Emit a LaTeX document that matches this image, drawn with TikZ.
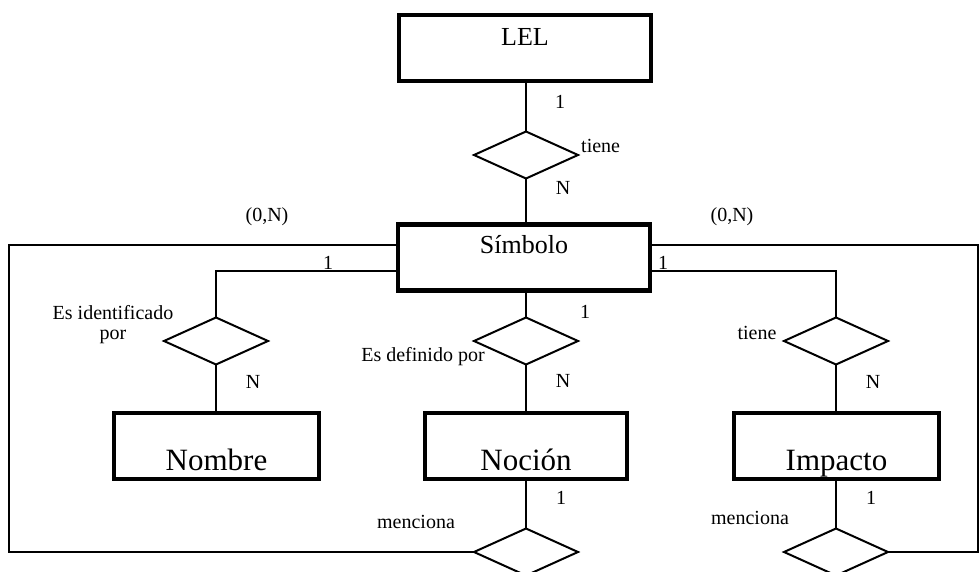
\documentclass[tikz,border=0pt]{standalone}
\usepackage{fontspec}
\setmainfont{Liberation Serif}
\usetikzlibrary{shapes.geometric}
\begin{document}
\begin{tikzpicture}[x=1pt,y=-1pt,
  entity/.style={draw, rectangle, line width=4.5pt, minimum width=#1, minimum height=66pt, inner sep=0pt, outer sep=0pt},
  rel/.style={draw, diamond, line width=2pt, minimum width=104pt, minimum height=47pt, inner sep=0pt, outer sep=0pt},
  conn/.style={line width=1.3pt},
  midt/.style={font=\fontsize{26}{30}\selectfont, inner sep=0pt, anchor=base},
  bigt/.style={font=\fontsize{31}{36}\selectfont, inner sep=0pt, anchor=base},
  lab/.style={font=\fontsize{20}{24}\selectfont, inner sep=0pt}]
\useasboundingbox (0,0) rectangle (979,572);
% entities
\node[entity=252pt] (lel) at (525,48) {};
\node[midt] (lelT) at ([yshift=2.4pt]lel.center) {LEL};
\node[entity=252pt] (sim) at (524,257.5) {};
\node[midt] (simT) at ([yshift=4.5pt]sim.center) {Símbolo};
\node[entity=205pt] (nom) at (216.5,446) {};
\node[bigt] (nomT) at ([yshift=-24pt]nom.center) {Nombre};
\node[entity=202pt] (noc) at (526,446) {};
\node[bigt] (nocT) at ([yshift=-24pt]noc.center) {Noción};
\node[entity=205pt] (imp) at (836.5,446) {};
\node[bigt] (impT) at ([yshift=-24pt]imp.center) {Impacto};
% relationships
\node[rel] (r1) at (526,155) {};
\node[rel] (r2) at (216,341) {};
\node[rel] (r3) at (526,341) {};
\node[rel] (r4) at (836,341) {};
\node[rel] (r5) at (526,552) {};
\node[rel] (r6) at (836,552) {};
% connectors
\draw[conn] (r1.north) -- (r1.north |- lel.south);
\draw[conn] (r1.south) -- (r1.south |- sim.north);
\draw[conn] ([yshift=-13.5pt]sim.west) -| (r2.north);
\draw[conn] (r2.south) -- (r2.south |- nom.north);
\draw[conn] (r3.north) -- (r3.north |- sim.south);
\draw[conn] (r3.south) -- (r3.south |- noc.north);
\draw[conn] ([yshift=-13.5pt]sim.east) -| (r4.north);
\draw[conn] (r4.south) -- (r4.south |- imp.north);
\draw[conn] (r5.north) -- (r5.north |- noc.south);
\draw[conn] (r6.north) -- (r6.north |- imp.south);
\coordinate (lx) at (9,400);
\coordinate (rx) at (978,400);
\draw[conn] ([yshift=12.5pt]sim.west) -| (lx) |- (r5.west);
\draw[conn] ([yshift=12.5pt]sim.east) -| (rx) |- (r6.east);
% labels
\node[lab] (l1) at (560,102) {1};
\node[lab, anchor=west] (l2) at (581,146) {tiene};
\node[lab] (l3) at (563,188) {N};
\node[lab] (l4) at (267,217) {(0,N)};
\node[lab] (l5) at (732,217) {(0,N)};
\node[lab] (l6) at (328,263) {1};
\node[lab] (l7) at (663,263) {1};
\node[lab] (l8) at (585,312) {1};
\node[lab, align=center] (l9) at (113,324.5) {Es identificado\\[-4pt]por};
\node[lab] (l10) at (423,357) {Es definido por};
\node[lab] (l11) at (757,333) {tiene};
\node[lab] (l12) at (253,382) {N};
\node[lab] (l13) at (563,381) {N};
\node[lab] (l14) at (873,382) {N};
\node[lab] (l15) at (561,498) {1};
\node[lab] (l16) at (871,498) {1};
\node[lab] (l17) at (416,522) {menciona};
\node[lab] (l18) at (750,518) {menciona};
\end{tikzpicture}
\end{document}
